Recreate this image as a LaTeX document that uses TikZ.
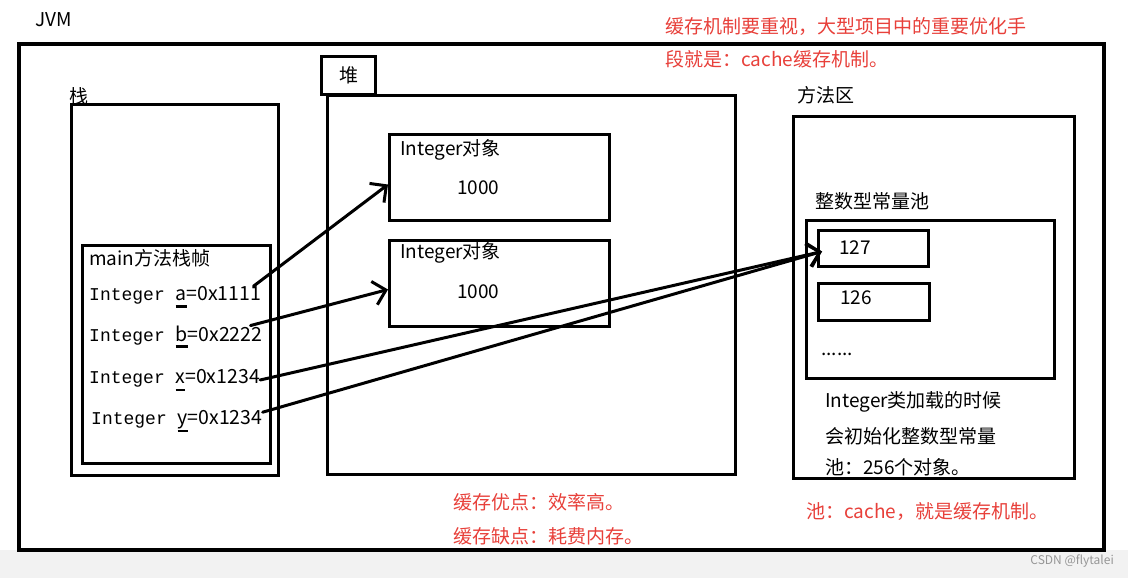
\documentclass[tikz,border=0pt]{standalone}
\usepackage{fontspec}
\setmainfont{Noto Sans CJK SC}
\newfontfamily\monofont{Liberation Mono}
\usepackage{xcolor}
\usetikzlibrary{arrows.meta}
\usetikzlibrary{positioning}
\definecolor{notered}{RGB}{232,64,58}
\definecolor{stripgray}{RGB}{242,242,242}
\definecolor{markgray}{RGB}{150,150,150}
\newcommand{\fs}{\fontsize{19pt}{19pt}\selectfont}
\newcommand{\mono}{\monofont\fontsize{18pt}{18pt}\selectfont}
\newsavebox{\varbox}
\newcommand{\varul}[2][1.2pt]{\sbox{\varbox}{#2}\rlap{\raisebox{-7pt}{\rule{\wd\varbox}{#1}}}\usebox{\varbox}}

\begin{document}
\begin{tikzpicture}[x=1pt,y=-1pt]
\tikzset{box/.style={draw,line width=3pt,rectangle,inner sep=0pt,anchor=north west},
txt/.style={font=\fs,inner sep=0pt,anchor=west},
note/.style={txt,text=notered},
var/.style={txt,font=\fontsize{19.5pt}{19.5pt}\selectfont},
ref/.style={line width=3pt,line cap=round,-{Straight Barb[length=12pt,width=24pt]}}}
\useasboundingbox (0,0) rectangle (1128,578);
\fill[white] (0,0) rectangle (1128,578);
\fill[stripgray] (0,550) rectangle (1128,578);
\node[inner sep=0pt,anchor=east,text=markgray,font=\fontsize{12pt}{12pt}\selectfont] (wm) at (1114,561) {CSDN @flytalei};
% JVM
\node[txt] (jvmlbl) at (35,20) {JVM};
\node[box,line width=4pt,minimum width=1085pt,minimum height=506pt] (jvm) at (17,42) {};
\node[note] (tip1) at (665,26) {缓存机制要重视，大型项目中的重要优化手};
\node[note] (tip2) at (665,59) {段就是：cache缓存机制。};
\node[note] (pro) at (453,502) {缓存优点：效率高。};
\node[note] (con) at (453,536) {缓存缺点：耗费内存。};
% stack
\node[txt] (stacklbl) at (69,96) {栈};
\node[box,minimum width=207pt,minimum height=371pt] (stack) at (70,103) {};
\node[box,minimum width=188pt,minimum height=218pt] (frame) at (81,244) {};
\node[txt] (framelbl) at (89,258) {main方法栈帧};
\node[var] (a) at (89,297) {{\mono Integer }\varul[2.8pt]{a}=0x1111};
\node[var] (b) at (89,337) {{\mono Integer }\varul[2.8pt]{b}=0x2222};
\node[var] (x) at (89,380) {{\mono Integer }\varul{x}=0x1234};
\node[var] (y) at (91,421) {{\mono Integer }\varul{y}=0x1234};
% heap
\node[box,minimum width=54pt,minimum height=38pt,font=\fs] (heaplbl) at (320,55) {堆};
\node[box,minimum width=408pt,minimum height=379pt] (heap) at (326,94) {};
\node[box,minimum width=220pt,minimum height=86pt] (obj1) at (388,133) {};
\node[box,minimum width=220pt,minimum height=86pt] (obj2) [below=17pt of obj1] {};
\node[txt] (obj1lbl) at (400,150) {Integer对象};
\node[txt] (obj1val) at (457,188) {1000};
\node[txt] (obj2lbl) at (400,253) {Integer对象};
\node[txt] (obj2val) at (457,292) {1000};
% method area
\node[txt] (methodlbl) at (797,95) {方法区};
\node[box,minimum width=281pt,minimum height=362pt] (method) at (792,115) {};
\node[txt] (poollbl) at (815,201) {整数型常量池};
\node[box,minimum width=248pt,minimum height=158pt] (pool) at (805,219) {};
\node[box,minimum width=110pt,minimum height=36pt] (c127) at (817,229) {};
\node[box,minimum width=111pt,minimum height=37pt] (c126) [below=14pt of c127] {};
\node[txt] (v127) at (839,248) {127};
\node[txt] (v126) at (840,298) {126};
\node[txt,anchor=base west] (dots) at (821,355) {......};
\node[txt] (load1) at (825,402) {Integer类加载的时候};
\node[txt] (load2) at (825,436) {会初始化整数型常量};
\node[txt] (load3) at (825,467) {池：256个对象。};
\node[note] (pooltip) at (806,512) {池：cache，就是缓存机制。};
% references
\draw[ref] ([xshift=-8pt]a.north east) -- ([yshift=-7pt]obj1.west);
\draw[ref] ([xshift=-12pt]b.north east) -- ([yshift=-6pt]obj2.west);
\draw[ref] (x.east) -- ([xshift=5pt,yshift=-3pt]c127.west);
\draw[ref] ([yshift=-2pt]y.north east) -- ([xshift=5pt,yshift=-3pt]c127.west);
\end{tikzpicture}
\end{document}
